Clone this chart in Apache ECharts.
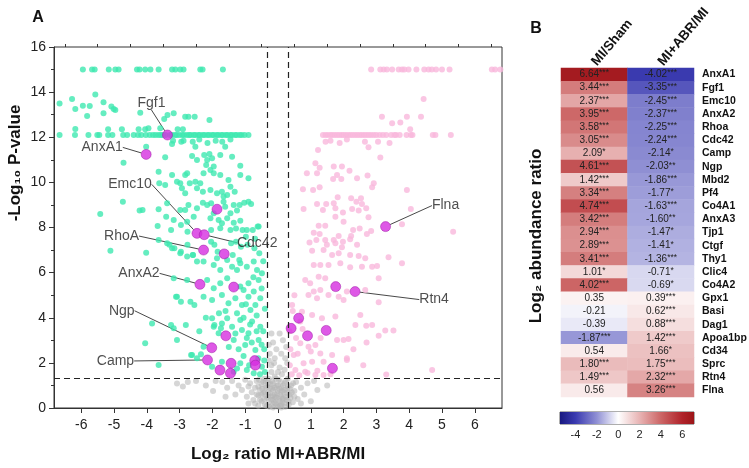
<!DOCTYPE html>
<html><head><meta charset="utf-8">
<script src="https://cdn.jsdelivr.net/npm/echarts@6/dist/echarts.min.js"></script>
<style>html,body{margin:0;padding:0;background:#fff}#c{width:749px;height:468px}</style>
</head><body><div id="c"></div>
<script>
// ---------- Volcano plot data ----------
const xTicks = [-6,-5,-4,-3,-2,-1,0,1,2,3,4,5,6];
const xMinorTicks = [-6.5,-5.5,-4.5,-3.5,-2.5,-1.5,-0.5,0.5,1.5,2.5,3.5,4.5,5.5,6.5];
const foldThresholds = [-0.32, 0.32];
const pThreshold = 1.3;

const downRegulated = [
 [-5.95,15],[-5.67,15],[-5.59,15],[-5.16,15],[-4.96,15],[-4.86,15],[-4.30,15],[-4.22,15],[-4.05,15],[-3.89,15],[-3.64,15],[-3.23,15],[-3.13,15],[-2.98,15],[-2.88,15],[-2.37,15],[-2.30,15],[-1.68,15],
 [-6.66,13.5],[-6.28,13.7],[-6.18,13.25],[-5.95,13.4],[-5.82,12.94],[-5.74,13.39],[-5.57,13.9],[-5.32,13.55],[-5.32,13.06],[-5.08,13.36],[-5.01,13.25],[-4.96,13.21],[-6.18,12.37],[-5.18,12.35],[-4.76,12.35],[-4.2,13.09],[-4.25,12.35],[-4.05,12.35],[-3.95,12.4],[-3.47,12.81],[-3.37,12.99],[-3.18,13.06],[-2.83,12.91],[-2.73,12.91],[-2.54,12.91],[-2.09,12.77],[-3.06,12.35],[-2.9,12.35],[-3.59,12.4],
 [-6.66,12.1],[-6.19,12.1],[-5.78,12.1],[-5.51,12.1],[-5.45,12.1],[-5.18,12.1],[-5.05,12.1],[-4.72,12.1],[-4.60,12.1],[-4.40,12.1],[-4.27,12.1],[-4.17,12.1],[-4.03,12.1],[-3.91,12.1],[-3.81,12.1],[-3.73,12.1],[-3.64,12.1],[-3.57,12.1],[-3.51,12.1],[-3.43,12.1],[-3.29,12.1],[-3.23,12.1],[-3.14,12.1],[-3.09,12.1],[-3.01,12.1],[-2.92,12.1],[-2.87,12.1],[-2.78,12.1],[-2.71,12.1],[-2.66,12.1],[-2.57,12.1],[-2.52,12.1],[-2.43,12.1],[-2.38,12.1],[-2.29,12.1],[-2.24,12.1],[-2.15,12.1],[-2.1,12.1],[-2.01,12.1],[-1.96,12.1],[-1.87,12.1],[-1.82,12.1],[-1.73,12.1],[-1.68,12.1],[-1.59,12.1],[-1.54,12.1],[-1.45,12.1],[-1.4,12.1],[-1.31,12.1],[-1.26,12.1],[-1.17,12.1],[-1.11,12.1],[-1.02,12.1],[-0.9,12.1],
 [-3.2,11.85],[-2.95,11.8],[-2.6,11.8],[-2.4,11.9],[-2.15,11.75],[-1.9,11.85],[-1.7,11.8],[-1.45,11.9],
 [-4.02,11.58],[-4.71,10.87],[-3.44,11.11],[-3.23,11.7],[-2.88,11.85],[-2.52,11.58],[-2.62,11.17],[-2.47,10.99],[-2.25,11.21],[-2.16,10.99],[-2.09,11.26],[-2.01,11.07],[-2.19,10.77],[-2.06,10.55],[-1.96,10.7],[-1.76,11.21],[-1.61,11.58],[-1.15,10.74],[-1.4,11.14],
 [-3.64,10.47],[-3.62,9.96],[-3.44,9.88],[-3.23,10.33],[-3.08,10.03],[-2.98,9.96],[-2.83,10.33],[-2.77,10.4],[-2.69,9.96],[-2.52,10.03],[-2.37,9.96],[-2.27,10.4],[-1.96,10.4],[-1.76,10.33],[-1.51,10.11],[-1.45,9.81],[-0.9,10.18],[-1.15,10.33],
 [-2.93,9.74],[-2.83,9.52],[-2.47,9.74],[-2.29,9.59],[-2.06,9.66],[-1.86,9.52],[-1.71,9.59],[-1.66,9.37],[-1.55,9.44],[-1.32,9.59],
 [-4.73,9.14],[-5.42,8.6],[-4.22,8.75],[-3.64,8.81],[-3.38,9.07],[-2.98,8.78],[-2.83,8.78],[-2.73,9.0],[-2.47,8.85],[-2.29,9.1],[-2.16,9.0],[-2.04,9.07],[-1.96,8.63],[-1.66,9.14],[-1.61,8.92],[-1.45,8.63],[-1.35,9.0],[-1.17,9.0],[-1.03,9.1],[-0.9,9.14],[-0.82,9.04],[-1.25,8.75],[-4.13,8.78],
 [-3.41,8.48],[-3.18,8.33],[-2.77,8.26],[-2.57,8.48],[-2.06,8.41],[-1.81,8.33],[-1.71,8.19],[-1.55,8.41],[-1.35,8.21],[-1.15,8.3],[-0.59,8.04],[-1.76,7.97],[-1.45,7.89],[-0.95,7.89],
 [-3.67,8.07],[-3.26,7.89],[-2.96,8.11],[-2.76,7.81],[-2.04,7.89],[-1.28,7.96],[-1.08,7.89],[-0.77,7.89],[-0.62,8.04],
 [-3.31,7.23],[-3.16,7.08],[-2.96,6.93],[-2.76,7.23],[-2.6,6.78],[-2.04,7.37],[-1.94,7.23],[-1.84,6.93],[-1.43,7.3],[-1.28,7.37],[-1.13,7.15],[-0.98,7.59],[-0.93,7.23],[-0.72,7.08],[-0.57,6.86],[-1.38,6.78],[-1.18,6.56],
 [-5.11,6.97],[-4.02,6.88],[-3.64,7.45],[-3.38,7.3],[-3.23,7.08],[-2.98,6.86],[-2.77,6.71],[-2.59,6.78],[-2.47,6.49],[-2.27,6.49],[-1.96,6.34],[-1.86,6.64],[-1.76,6.12],[-1.55,6.56],[-1.4,6.26],[-1.25,6.12],[-1.15,6.41],[-0.95,6.26],[-0.74,6.49],[-0.64,6.12],[-0.49,5.97],
 [-3.18,5.75],[-2.77,5.67],[-2.16,5.67],[-1.96,5.31],[-1.76,5.53],[-1.55,5.75],[-1.15,5.38],[-1.05,5.23],[-0.9,5.53],[-0.74,5.16],[-0.59,5.67],[-0.54,4.86],[-3.08,4.93],[-2.67,4.71],[-2.27,4.93],[-2.01,4.79],[-1.71,5.01],[-1.51,4.64],[-1.3,4.86],[-1.1,4.57],[-0.9,4.93],[-0.69,4.57],[-0.84,4.34],
 [-3.84,3.75],[-4.05,2.87],[-3.64,1.91],[-3.18,3.53],[-3.08,3.01],[-2.62,2.35],[-2.47,2.2],[-2.27,2.72],[-2.01,3.98],[-1.96,3.6],[-1.81,3.31],[-1.71,3.75],[-1.55,3.98],[-1.4,3.6],[-1.35,3.01],[-1.15,3.9],[-1.1,3.46],[-1.0,2.79],[-0.9,3.31],[-0.79,3.83],[-0.69,2.57],[-0.59,3.01],[-0.54,3.6],[-1.15,1.98],[-0.95,1.68],[-0.49,1.83],[-0.74,1.54],[-1.35,1.61],[-1.71,2.05],[-2.01,1.83],
 [-3.26,3.68],[-2.81,3.68],[-3.11,4.93],[-2.96,4.71],[-2.55,4.57],[-2.65,2.35],[-2.35,2.38],[-1.94,3.68],[-1.74,3.53],
 [-1.25,4.2],[-1.05,4.0],[-0.85,3.7],[-0.65,4.1],[-0.45,3.4],[-0.42,2.6],[-0.4,4.4],[-0.6,2.2],[-0.8,2.9],[-1.2,2.6],[-1.05,2.3],[-0.88,1.9],[-0.55,1.5],[-0.42,2.1],[-1.5,2.7],[-1.3,3.3],[-0.98,4.6],[-0.75,5.8],[-0.5,5.3],[-0.45,6.5],[-0.7,7.5],[-1.6,4.3],[-1.8,4.2],[-2.2,4.0],[-2.4,3.4],[-0.65,3.4],[-0.5,2.8],[-0.95,3.1],[-1.25,1.75],[-0.4,1.6]
];

const upRegulated = [
 [2.84,15],[3.12,15],[3.22,15],[3.32,15],[3.48,15],[3.68,15],[3.78,15],[3.85,15],[3.98,15],[4.22,15],[4.46,15],[4.59,15],[4.69,15],[4.82,15],[5.0,15],[5.23,15],[6.52,15],[6.62,15],[6.78,15],
 [4.44,13.7],[3.17,12.91],[3.48,12.62],[3.73,12.65],[3.93,12.91],[4.36,12.91],[4.03,12.35],
 [1.37,12.1],[1.45,12.1],[1.52,12.1],[1.6,12.1],[1.66,12.1],[1.73,12.1],[1.8,12.1],[1.87,12.1],[1.94,12.1],[2.0,12.1],[2.07,12.1],[2.14,12.1],[2.21,12.1],[2.28,12.1],[2.35,12.1],[2.42,12.1],[2.49,12.1],[2.56,12.1],[2.63,12.1],[2.7,12.1],[2.77,12.1],[2.84,12.1],[2.92,12.1],[3.0,12.1],[3.1,12.1],[3.2,12.1],[3.3,12.1],[3.45,12.1],[3.55,12.1],[3.6,12.1],[3.71,12.1],[3.92,12.1],[4.05,12.1],[4.1,12.1],[4.72,12.1],[4.8,12.1],[5.27,12.1],
 [1.45,11.8],[1.6,11.85],[1.88,11.75],[2.1,11.9],[2.65,11.8],[3.05,11.8],[3.4,11.75],
 [3.12,11.1],[2.76,11.56],[1.22,11.44],[1.14,10.85],[0.88,10.4],[1.19,10.4],[1.27,10.65],[1.7,10.7],[1.95,10.7],[1.8,10.33],[1.68,10.15],[1.93,10.15],[2.18,10.51],[2.41,10.18],[2.73,10.3],[2.92,9.96],[2.87,9.78],[3.93,9.66],
 [0.76,9.69],[1.07,9.66],[1.27,9.78],[0.78,8.82],[1.19,9.04],[1.37,8.78],[1.47,9.04],[1.7,9.07],[1.82,9.34],[1.75,8.85],[1.98,8.66],[2.26,8.82],[2.23,9.3],[2.39,9.14],[2.46,8.75],[2.53,9.3],[2.56,9.04],[2.69,8.85],[2.76,8.45],[1.75,8.48],[2.0,8.26],[4.05,8.82],[3.78,8.14],[5.34,7.81],
 [1.24,8.08],[1.44,8.08],[1.09,7.77],[1.27,7.71],[0.96,7.33],[1.17,7.45],[1.44,7.45],[1.49,7.23],[1.7,7.45],[1.75,7.3],[1.85,7.62],[1.98,7.37],[1.95,7.12],[2.23,7.62],[2.29,7.89],[2.49,7.96],[2.71,7.71],[2.84,7.85],[2.2,7.48],[2.41,7.23],
 [1.04,6.97],[1.39,7.0],[1.65,6.78],[1.85,6.86],[2.2,6.78],[2.46,6.74],[2.66,6.64],[3.37,6.68],[1.09,6.34],[1.29,6.34],[1.54,6.34],[1.9,6.41],[2.2,6.24],[2.56,6.26],[2.87,6.26],[3.02,6.29],[3.78,6.41],
 [0.83,5.67],[0.98,5.53],[1.24,5.82],[1.44,5.75],[1.09,5.16],[1.29,5.23],[0.93,5.01],[1.19,4.86],[1.54,5.01],[1.85,4.93],[2.0,4.79],[2.1,5.16],[2.66,5.23],[3.07,5.75],[3.07,4.69],
 [0.43,4.57],[0.73,4.27],[1.04,4.12],[1.34,3.98],[1.75,4.05],[2.51,4.12],[2.36,3.68],[2.69,3.65],[2.87,3.68],[3.27,3.43],[3.52,3.43],[3.07,3.2],[1.8,3.01],[2.0,3.01],[2.15,3.06],
 [0.68,3.83],[0.68,2.87],[0.93,2.72],[1.14,2.79],[1.29,2.42],[1.65,2.35],[2.1,2.2],[0.48,2.35],[0.78,1.98],[1.04,2.05],[1.39,2.05],[0.53,1.68],[0.83,1.61],[1.14,1.46],[1.39,1.46],[3.3,1.49],[4.7,1.68],[2.1,2.13],
 [0.35,3.4],[0.38,2.6],[0.36,1.9],[0.42,1.5],[0.45,4.3],[0.55,3.1],[0.6,2.4],[0.5,5.0],[0.65,1.45],[0.9,1.55],[1.2,1.65],[1.6,1.5],[1.0,2.5],[0.75,3.5],[1.3,3.1],[2.3,2.6],[2.7,2.9],[2.6,1.9]
];

const notSignificant = [
 [-3.08,1.09],[-2.9,0.95],[-2.75,1.15],[-2.5,1.2],[-2.2,1.0],[-1.98,0.75],[-1.9,1.2],[-1.7,1.15],[-1.6,0.5],[-1.55,0.9],[-1.4,1.2],[-1.3,0.6],[-1.2,1.0],[-1.1,0.8],[-1.0,1.25],[-0.95,0.5],[-0.9,0.95],[-0.9,0.2],[-0.85,1.1],[-0.8,0.7],[-0.75,0.35],[-0.7,0.9],[-0.7,0.2],[-0.65,1.2],[-0.65,0.6],[-0.6,0.55],[-0.6,0.95],[-0.58,1.25],[-0.55,0.8],[-0.55,0.35],[-0.5,1.05],[-0.5,0.3],[-0.5,0.6],[-0.48,0.85],[-0.45,0.65],[-0.45,1.15],[-0.42,1.3],[-0.42,0.4],[-0.4,0.15],[-0.4,0.7],[-0.38,0.9],[-0.38,1.2],[-0.35,0.45],[-0.35,0.1],[-0.33,0.95],[-0.3,1.1],[-0.3,0.7],[-0.3,0.5],[-0.28,0.25],[-0.28,1.3],[-0.28,2.1],[-0.25,2.4],[-0.25,0.9],[-0.25,0.65],[-0.26,0.05],[-0.23,1.05],[-0.22,0.5],[-0.2,1.6],[-0.2,0.1],[-0.2,0.35],[-0.2,1.9],[-0.18,1.2],[-0.18,0.85],[-0.16,0.55],[-0.15,0.35],[-0.15,0.8],[-0.15,2.9],[-0.14,1.1],[-0.12,2.0],[-0.12,0.25],[-0.1,0.6],[-0.1,1.4],[-0.1,0.9],[-0.1,2.2],[-0.08,0.2],[-0.08,0.5],[-0.06,1.3],[-0.05,1.0],[-0.05,0.45],[-0.04,0.15],[-0.02,0.65],[0.0,0.75],[0.0,0.05],[0.0,1.0],[0.0,1.6],[0.02,1.25],[0.02,0.4],[0.04,0.85],[0.05,0.3],[0.05,1.8],[0.05,3.3],[0.06,0.1],[0.08,0.6],[0.08,1.15],[0.1,0.9],[0.1,0.15],[0.1,0.5],[0.1,2.4],[0.12,1.5],[0.12,0.75],[0.14,0.25],[0.15,0.4],[0.16,1.0],[0.18,0.7],[0.18,0.45],[0.2,1.1],[0.2,0.2],[0.2,0.8],[0.2,1.7],[0.22,2.2],[0.22,0.05],[0.24,1.2],[0.25,0.5],[0.26,0.35],[0.28,0.85],[0.28,0.65],[0.28,2.0],[0.3,1.3],[0.3,0.95],[0.32,0.3],[0.33,0.15],[0.35,0.6],[0.36,0.85],[0.38,0.45],[0.4,1.0],[0.42,0.7],[0.45,0.25],[0.46,1.1],[0.5,0.75],[0.5,0.5],[0.55,1.15],[0.6,0.4],[0.7,0.9],[0.7,0.2],[0.8,0.6],[0.9,1.1],[1.0,0.3],[1.1,1.2],[1.2,0.8],[1.5,1.0],[-0.6,0.1],[-0.15,0.02],[0.1,0.02],[-0.28,2.8],[-0.05,2.6],[0.15,3.0],[-0.2,3.3],[0.25,2.7]
];

const highlightNames = ['Fgf1','AnxA1','Mbd2','Emc10','Cdc42','RhoA','Co4A1','AnxA2','Thy1','AnxA3','Ngp','Camp','Pf4','Tjp1','Ctgf','Clic4','Co4A2','Gpx1','Basi','Dag1','Apoa1bp','Cd34','Sprc','Rtn4','Flna'];
const highlightX = [-3.37,-4.02,-1.86,-2.47,-2.25,-2.27,-1.64,-2.38,-1.35,-1.59,-2.02,-2.15,-1.77,-1.43,-1.45,-0.71,-0.69,0.40,0.63,0.90,1.47,1.66,1.76,2.35,3.28];
const highlightY = [12.1,11.24,8.81,7.74,7.68,7.0,6.83,5.48,5.36,3.2,2.67,2.13,1.68,1.98,1.54,2.1,1.9,3.53,3.98,3.2,3.44,1.76,5.38,5.16,8.04];
const labeledGenes = ['Fgf1','AnxA1','Emc10','Cdc42','RhoA','AnxA2','Ngp','Camp','Rtn4','Flna'];

// ---------- Heatmap data ----------
const columns = ['MI/Sham','MI+ABR/MI'];
const genes = ['AnxA1','Fgf1','Emc10','AnxA2','Rhoa','Cdc42','Camp','Ngp','Mbd2','Pf4','Co4A1','AnxA3','Tjp1','Ctgf','Thy1','Clic4','Co4A2','Gpx1','Basi','Dag1','Apoa1bp','Cd34','Sprc','Rtn4','Flna'];
const miSham = [6.64,3.44,2.37,3.95,3.58,3.05,2.09,4.61,1.42,3.34,4.74,3.42,2.94,2.89,3.41,1.01,4.02,0.35,-0.21,-0.39,-1.87,0.54,1.80,1.49,0.56];
const miShamSig = ['***','***','***','***','***','***','*','***','***','***','***','***','***','***','***','*','***','','','','***','','***','***',''];
const abrMi = [-4.02,-3.35,-2.45,-2.37,-2.25,-2.24,-2.14,-2.03,-1.86,-1.77,-1.63,-1.60,-1.47,-1.41,-1.36,-0.71,-0.69,0.39,0.62,0.88,1.42,1.66,1.75,2.32,3.26];
const abrMiSig = ['***','***','***','***','***','***','*','**','***','*','***','**','*','*','***','*','*','***','***','***','***','*','***','***','***'];
const colorbarTicks = [-4,-2,0,2,4,6];
const colorbarRange = [-5.45, 7.1];
const colorScaleRange = [-6, 8];

// ---------- styles ----------
const FONT = 'Liberation Sans, Arial, sans-serif';
const scaleColors = ['#0b0b6e','#3a3ab0','#9090d4','#ffffff','#e8b4b4','#cc6666','#b0232a','#8c0a0a'];
const labelOffsets = {Fgf1:[-16,-32], AnxA1:[-44,-7], Emc10:[-67,-49], RhoA:[-82,-14], Cdc42:[53,8], AnxA2:[-61,-11], Ngp:[-90,-37], Camp:[-92,1], Flna:[60,-21], Rtn4:[79,8]};

function hexToRgb(h){return [parseInt(h.substr(1,2),16),parseInt(h.substr(3,2),16),parseInt(h.substr(5,2),16)];}
function colorAt(v){
  const n = scaleColors.length-1;
  let t = (v-colorScaleRange[0])/(colorScaleRange[1]-colorScaleRange[0])*n;
  t = Math.max(0, Math.min(n, t));
  const i = Math.min(n-1, Math.floor(t)), f = t-i;
  const a = hexToRgb(scaleColors[i]), b = hexToRgb(scaleColors[i+1]);
  return 'rgb('+a.map((c,k)=>Math.round(c+(b[k]-c)*f)).join(',')+')';
}
function colorbarStops(){
  const stops = [];
  const [lo,hi] = colorbarRange;
  stops.push({offset:0, color:colorAt(lo)});
  const n = scaleColors.length-1;
  for(let i=0;i<=n;i++){
    const v = colorScaleRange[0] + (colorScaleRange[1]-colorScaleRange[0])*i/n;
    if(v>lo && v<hi) stops.push({offset:(v-lo)/(hi-lo), color:scaleColors[i]});
  }
  stops.push({offset:1, color:colorAt(hi)});
  return stops;
}

const heatData = [];
genes.forEach((g,i)=>{
  heatData.push({value:[0,i,miSham[i]], itemStyle:{color:colorAt(miSham[i])}});
  heatData.push({value:[1,i,abrMi[i]], itemStyle:{color:colorAt(abrMi[i])}});
});

const highlightData = highlightNames.map((n,i)=>({
  name:n, value:[highlightX[i], highlightY[i]],
  label:{show: labeledGenes.indexOf(n)>=0},
  labelLine:{show: labeledGenes.indexOf(n)>=0}
}));

const chart = echarts.init(document.getElementById('c'), null, {renderer:'canvas'});
chart.setOption({
  animation:false,
  textStyle:{fontFamily:FONT},
  grid:[
    {left:54, top:47, width:448, height:361, show:true, borderColor:'#333', borderWidth:1, backgroundColor:'transparent', outerBoundsMode:'none', containLabel:false},
    {left:561, top:68, width:133, height:329, outerBoundsMode:'none', containLabel:false},
    {left:560, top:412, width:134, height:12, show:true, borderColor:'#333', borderWidth:0.8, outerBoundsMode:'none', containLabel:false}
  ],
  xAxis:[
    {gridIndex:0, type:'value', min:-6.83, max:6.83,
     axisLine:{show:true, onZero:false, lineStyle:{color:'#333'}},
     axisTick:{show:true, customValues:xTicks, length:5, lineStyle:{color:'#333'}},
     axisLabel:{customValues:xTicks, fontSize:14, color:'#222', margin:10, fontFamily:FONT},
     splitLine:{show:false},
     name:'Log₂ ratio MI+ABR/MI', nameLocation:'middle', nameGap:38,
     nameTextStyle:{fontSize:17, fontWeight:'bold', color:'#111', fontFamily:FONT}},
    {gridIndex:0, type:'value', min:-6.83, max:6.83,
     axisLine:{show:false, onZero:false}, axisTick:{show:true, customValues:xMinorTicks, length:3, lineStyle:{color:'#333'}},
     axisLabel:{show:false}, splitLine:{show:false}},
    {gridIndex:1, type:'category', data:columns, position:'top',
     axisLine:{show:false}, axisTick:{show:false}, splitLine:{show:false},
     axisLabel:{interval:0, rotate:-50, fontSize:13.5, fontWeight:'bold', color:'#111', margin:4, fontFamily:FONT}},
    {gridIndex:2, type:'value', min:colorbarRange[0], max:colorbarRange[1],
     axisLine:{show:false}, axisTick:{show:false}, splitLine:{show:false},
     axisLabel:{customValues:colorbarTicks, fontSize:11, color:'#222', margin:5, fontFamily:FONT}},
    {gridIndex:2, type:'value', position:'top', min:colorbarRange[0], max:colorbarRange[1],
     axisLine:{show:false}, axisTick:{show:true, inside:true, customValues:colorbarTicks, length:4, lineStyle:{color:'#333'}},
     axisLabel:{show:false}, splitLine:{show:false}}
  ],
  yAxis:[
    {gridIndex:0, type:'value', min:0, max:16, interval:2,
     axisLine:{show:true, onZero:false, lineStyle:{color:'#333'}},
     axisTick:{show:true, length:5, lineStyle:{color:'#333'}},
     minorTick:{show:true, splitNumber:2, length:3, lineStyle:{color:'#333'}},
     axisLabel:{fontSize:14, color:'#222', margin:8, fontFamily:FONT},
     splitLine:{show:false}, minorSplitLine:{show:false}},
    {gridIndex:1, type:'category', data:genes, inverse:true, position:'right',
     axisLine:{show:false}, axisTick:{show:false}, splitLine:{show:false},
     axisLabel:{interval:0, fontSize:10.5, fontWeight:'bold', color:'#111', margin:8, fontFamily:FONT}},
    {gridIndex:2, type:'value', min:0, max:1, show:false}
  ],
  series:[
    {type:'scatter', name:'ns', xAxisIndex:0, yAxisIndex:0, data:notSignificant, symbolSize:6,
     itemStyle:{color:'#b4b4b4', opacity:0.55}, silent:true},
    {type:'scatter', name:'down', xAxisIndex:0, yAxisIndex:0, data:downRegulated, symbolSize:6,
     itemStyle:{color:'#3fe8b0'}, silent:true,
     markLine:{silent:true, symbol:['none','none'], label:{show:false},
       lineStyle:{color:'#222', type:[6,4], width:1.2},
       data:[{xAxis:foldThresholds[0]},{xAxis:foldThresholds[1]},{yAxis:pThreshold}]}},
    {type:'scatter', name:'up', xAxisIndex:0, yAxisIndex:0, data:upRegulated, symbolSize:6,
     itemStyle:{color:'#f9b8dc'}, silent:true},
    {type:'scatter', name:'hl', xAxisIndex:0, yAxisIndex:0, data:highlightData, symbolSize:10,
     itemStyle:{color:'#d62ee0', borderColor:'#9a1aa0', borderWidth:0.6}, silent:true,
     label:{show:true, position:'inside', formatter:'{b}', fontSize:14, color:'#222', fontFamily:FONT},
     labelLine:{show:true, lineStyle:{color:'#333', width:0.9}},
     labelLayout:function(p){
       const n = highlightNames[p.dataIndex]; const o = labelOffsets[n];
       if(!o) return {};
       return {x:p.rect.x+p.rect.width/2+o[0], y:p.rect.y+p.rect.height/2+o[1], align:'center', verticalAlign:'middle'};
     }},
    {type:'heatmap', xAxisIndex:2, yAxisIndex:1, data:heatData, silent:true,
     label:{show:true, color:'#222', fontFamily:FONT,
       formatter:function(p){
         const sig = p.value[0]===0 ? miShamSig[p.value[1]] : abrMiSig[p.value[1]];
         const v = p.value[2].toFixed(2);
         return sig ? '{v|'+v+'}{s|'+sig+'}' : '{v|'+v+'}';
       },
       rich:{v:{fontSize:10, color:'#222', fontFamily:FONT}, s:{fontSize:8.5, color:'#222', padding:[0,0,3,0], fontFamily:FONT}}},
     emphasis:{disabled:true}},
    {type:'custom', xAxisIndex:3, yAxisIndex:2, data:[[colorbarRange[0], colorbarRange[1]]], silent:true,
     renderItem:function(params, api){
       const p0 = api.coord([colorbarRange[0], 1]);
       const p1 = api.coord([colorbarRange[1], 0]);
       return {type:'rect', shape:{x:p0[0], y:p0[1], width:p1[0]-p0[0], height:p1[1]-p0[1]},
         style:{fill:new echarts.graphic.LinearGradient(0,0,1,0,colorbarStops())}};
     }}
  ],
  graphic:[
    {type:'text', x:38, y:18, style:{text:'A', font:'bold 16px '+FONT, fill:'#111', align:'center', verticalAlign:'middle'}},
    {type:'text', x:536, y:29, style:{text:'B', font:'bold 16px '+FONT, fill:'#111', align:'center', verticalAlign:'middle'}},
    {type:'text', x:15, y:163, rotation:Math.PI/2, style:{text:'-Log₁₀ P-value', font:'bold 17px '+FONT, fill:'#111', align:'center', verticalAlign:'middle'}},
    {type:'text', x:536, y:236, rotation:Math.PI/2, style:{text:'Log₂ abundance ratio', font:'bold 17px '+FONT, fill:'#111', align:'center', verticalAlign:'middle'}}
  ]
});
</script></body></html>
